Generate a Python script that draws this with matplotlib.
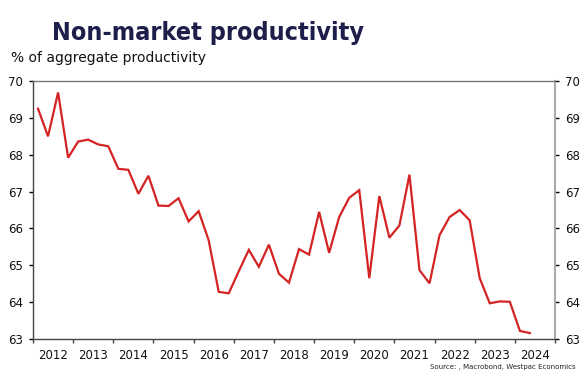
import matplotlib.pyplot as plt
from matplotlib import font_manager as fm
import matplotlib.ticker as mticker
import numpy as np

# quarterly values, 2012Q1 .. 2024Q2
start_year = 2012
values = [
    69.25, 68.50, 69.69, 67.92,
    68.36, 68.41, 68.28, 68.23,
    67.62, 67.59, 66.94, 67.43,
    66.62, 66.61, 66.82, 66.19,
    66.47, 65.68, 64.28, 64.24,
    64.84, 65.42, 64.96, 65.56,
    64.77, 64.53, 65.44, 65.29,
    66.45, 65.34, 66.31, 66.83,
    67.04, 64.65, 66.88, 65.75,
    66.08, 67.46, 64.87, 64.51,
    65.82, 66.31, 66.50, 66.22,
    64.65, 63.97, 64.02, 64.01,
    63.22, 63.16,
]
year_labels = [str(y) for y in range(2012, 2025)]
y_ticks = [63, 64, 65, 66, 67, 68, 69, 70]

x = start_year + (np.arange(len(values)) + 0.5) / 4.0

fig = plt.figure(figsize=(5.87, 3.77), dpi=100)
ax = fig.add_axes([0.0562, 0.1008, 0.8893, 0.6842])

ax.plot(x, values, color="#d42323", linewidth=1.6, solid_joinstyle="miter")

ax.set_xlim(2012, 2025)
ax.set_ylim(63, 70)

# year boundaries as ticks, labels centred in between
ax.xaxis.set_major_locator(mticker.FixedLocator(range(2012, 2026)))
ax.xaxis.set_major_formatter(mticker.NullFormatter())
ax.xaxis.set_minor_locator(mticker.FixedLocator([y + 0.5 for y in range(2012, 2025)]))
ax.xaxis.set_minor_formatter(mticker.FixedFormatter(year_labels))
ax.tick_params(axis="x", which="major", length=3, width=1, color="#444444", direction="out")
ax.tick_params(axis="x", which="minor", length=0, pad=7, labelsize=8.5, labelcolor="#111111")

ax.set_yticks(y_ticks)
ax.tick_params(axis="y", which="major", length=3, width=1, direction="out",
               labelsize=8.5, labelcolor="#111111", pad=4,
               left=True, right=True, labelleft=True, labelright=True)
for t in ax.yaxis.get_ticklines()[1::2]:
    t.set_color("#999999")

ax.spines["left"].set_color("#444444")
ax.spines["bottom"].set_color("#444444")
ax.spines["top"].set_color("#777777")
ax.spines["right"].set_color("#aaaaaa")
for s in ax.spines.values():
    s.set_linewidth(1.0)
ax.spines["right"].set_linewidth(1.5)

# narrow bold face for the headline if there is one
names = {f.name for f in fm.fontManager.ttflist}
title_fam = [n for n in ["Liberation Sans Narrow", "DejaVu Sans Condensed"] if n in names]
title_fam += ["DejaVu Sans"]

fig.text(0.089, 0.893, "Non-market productivity", fontsize=18, fontweight="bold",
         family=title_fam, fontstretch="condensed", color="#1e1e4a",
         ha="left", va="baseline")
fig.text(0.019, 0.846, "% of aggregate productivity", fontsize=10, color="#111111",
         ha="left", va="center")
fig.text(0.98, 0.027, "Source: , Macrobond, Westpac Economics", fontsize=5,
         color="#222222", ha="right", va="center")

fig.savefig("out.png", dpi=100)
